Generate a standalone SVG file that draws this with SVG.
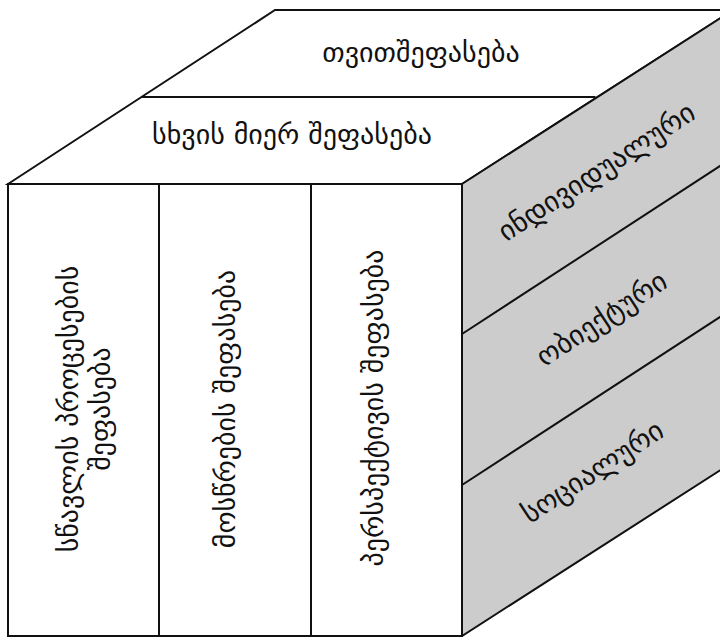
<svg xmlns="http://www.w3.org/2000/svg" width="720" height="637" viewBox="0 0 720 637">
<style>
.edge{fill:none;stroke:#111;stroke-width:2;stroke-linejoin:miter}
.face{fill:#fff;stroke:#111;stroke-width:2}
.side{fill:#cccccc;stroke:#111;stroke-width:2}
.lbl{font-family:"DejaVu Sans","Noto Sans",sans-serif;font-size:28px;fill:#111;text-anchor:middle}
</style>
<rect width="720" height="637" fill="#fff"/>
<g id="top-face">
<polygon class="face" points="8,184 275,10 733,10 462,184"/>
</g>
<g id="right-face">
<polygon class="side" points="462,184 733,10 733,462 462,636"/>
</g>
<g id="front-face">
<rect class="face" x="8" y="184" width="454" height="452"/>
</g>
<g id="connectors">
<line class="edge" x1="141.5" y1="97" x2="595.5" y2="97"/>
<line class="edge" x1="159" y1="184" x2="159" y2="636"/>
<line class="edge" x1="311" y1="184" x2="311" y2="636"/>
<line class="edge" x1="462" y1="334" x2="733" y2="157.5"/>
<line class="edge" x1="462" y1="485" x2="733" y2="308.5"/>
</g>
<g id="self-assessment">
<text class="lbl" x="421" y="62">თვითშეფასება</text>
</g>
<g id="assessment-by-others">
<text class="lbl" x="292" y="143.5">სხვის მიერ შეფასება</text>
</g>
<g id="learning-process">
<text class="lbl" transform="translate(83,409) rotate(-90)"><tspan x="0" y="-5.5">სწავლის პროცესების</tspan><tspan x="0" y="26.5">შეფასება</tspan></text>
</g>
<g id="achievement">
<text class="lbl" transform="translate(224,409) rotate(-90)" x="0" y="10.5">მოსწრების შეფასება</text>
</g>
<g id="perspective">
<text class="lbl" transform="translate(372,408) rotate(-90)" x="0" y="10.5">პერსპექტივის შეფასება</text>
</g>
<g id="individual">
<text class="lbl" transform="translate(596,171) rotate(-33.1)" x="0" y="10.5">ინდივიდუალური</text>
</g>
<g id="objective">
<text class="lbl" transform="translate(601,318) rotate(-33.1)" x="0" y="10.5">ობიექტური</text>
</g>
<g id="social">
<text class="lbl" transform="translate(592,471) rotate(-33.1)" x="0" y="10.5">სოციალური</text>
</g>
</svg>
